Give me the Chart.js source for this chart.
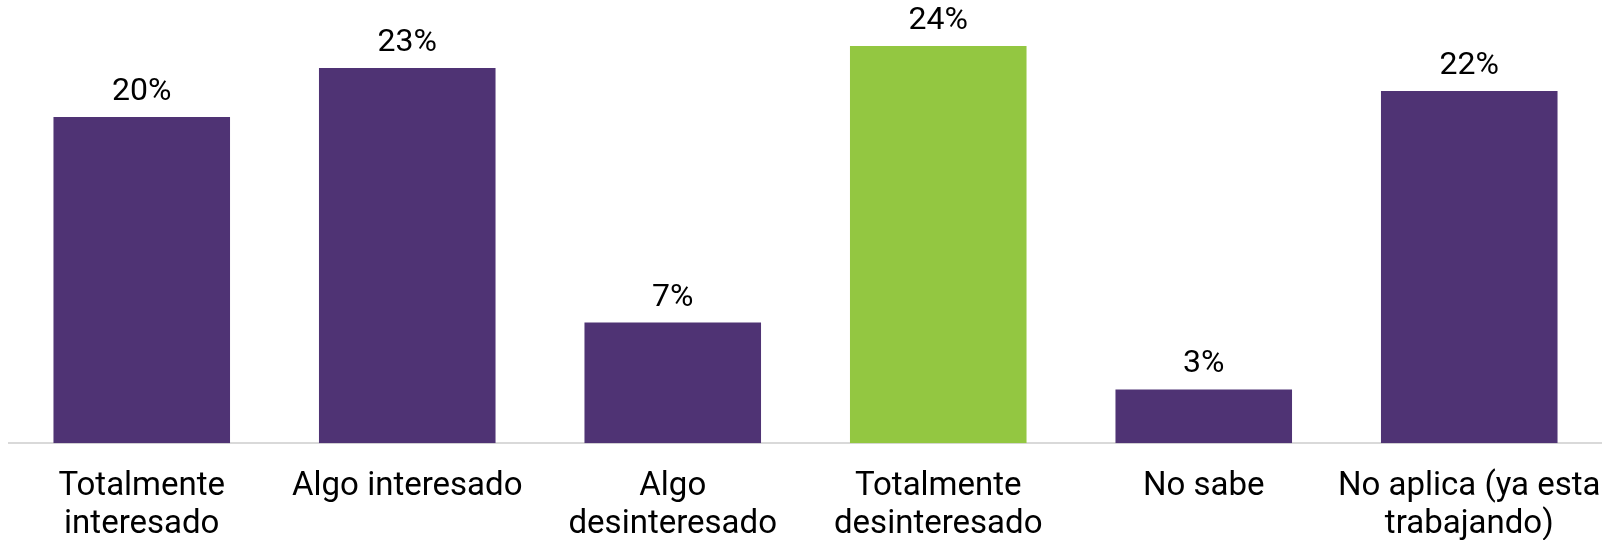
<!DOCTYPE html>
<html>
<head>
<meta charset="utf-8">
<script src="https://cdn.jsdelivr.net/npm/chart.js@4/dist/chart.umd.min.js"></script>
<style>
  html, body { margin: 0; padding: 0; background: #ffffff; }
  #wrap { width: 1602px; height: 540px; position: relative; }
</style>
</head>
<body>
<div id="wrap"><canvas id="interesChart"></canvas></div>
<script>
const categories = [
    ['Totalmente', 'interesado'],
    'Algo interesado',
    ['Algo', 'desinteresado'],
    ['Totalmente', 'desinteresado'],
    'No sabe',
    ['No aplica (ya esta', 'trabajando)']
];
const percentages = [20.0, 23.0, 7.4, 24.35, 3.3, 21.6];
const barColors = ['#4f3374', '#4f3374', '#4f3374', '#93c741', '#4f3374', '#4f3374'];

// writes the rounded percentage above each bar
const valueLabels = {
    id: 'valueLabels',
    afterDatasetsDraw(chart) {
        const ctx = chart.ctx;
        const meta = chart.getDatasetMeta(0);
        ctx.save();
        ctx.font = '32px Roboto';
        ctx.fillStyle = '#000000';
        ctx.textAlign = 'center';
        ctx.textBaseline = 'alphabetic';
        meta.data.forEach(function (bar, i) {
            ctx.fillText(Math.round(percentages[i]) + '%', bar.x, bar.y - 17);
        });
        ctx.restore();
    }
};

document.addEventListener("DOMContentLoaded", function () {
    const ctx = document.getElementById('interesChart').getContext('2d');

    new Chart(ctx, {
        type: 'bar',
        data: {
            labels: categories,
            datasets: [
                {
                    data: percentages,
                    backgroundColor: barColors,
                    borderWidth: 0,
                    barPercentage: 0.665,
                    categoryPercentage: 1.0
                }
            ]
        },
        options: {
            responsive: true,
            maintainAspectRatio: false,
            animation: false,
            layout: {
                padding: { left: 9, right: 0, top: 0, bottom: 0 }
            },
            scales: {
                x: {
                    afterFit: function (scale) {
                        scale.height = 96.7;
                        // let the last label run to the edge like the original
                        scale.paddingLeft = 0;
                        scale.paddingRight = 0;
                    },
                    grid: { display: false, drawTicks: false },
                    border: { display: true, color: '#d9d9d9', width: 2 },
                    ticks: {
                        color: '#000000',
                        padding: 24,
                        maxRotation: 0,
                        autoSkip: false,
                        font: { family: 'Roboto', size: 33, lineHeight: 1.17 }
                    }
                },
                y: {
                    display: false,
                    beginAtZero: true,
                    min: 0,
                    max: 27.17
                }
            },
            plugins: {
                legend: { display: false },
                title: { display: false },
                tooltip: { enabled: false }
            }
        },
        plugins: [valueLabels]
    });
});
</script>
</body>
</html>
